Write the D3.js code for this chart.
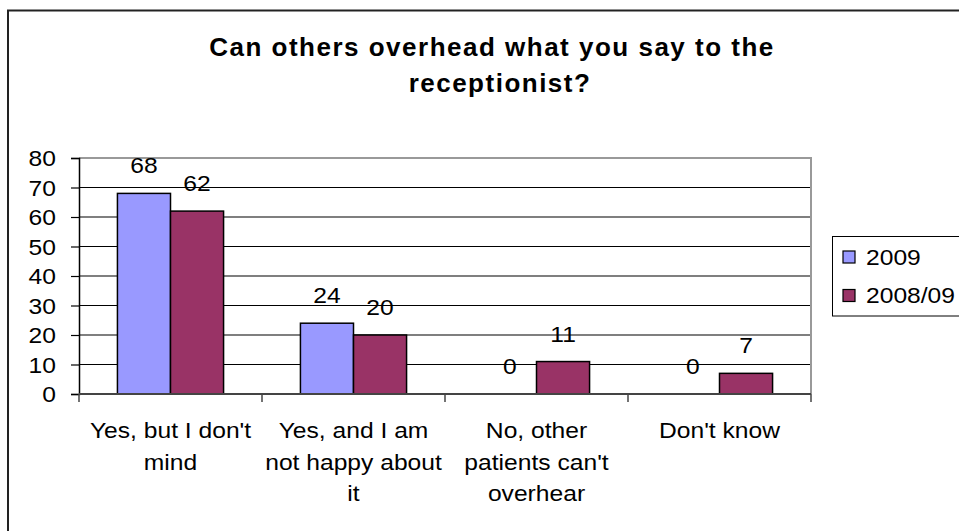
<!DOCTYPE html>
<html><head><meta charset="utf-8">
<script src="https://cdn.jsdelivr.net/npm/d3@7"></script>
<style>
body{margin:0;background:#fff;}
svg{display:block;font-family:"Liberation Sans",Arial,sans-serif;}
</style></head>
<body><svg id="c" width="959" height="531"></svg>
<script>
const categories = [["Yes, but I don't","mind"],["Yes, and I am","not happy about","it"],["No, other","patients can't","overhear"],["Don't know"]];
const seriesNames = ["2009","2008/09"];
const values2009 = [68,24,0,0];
const values200809 = [62,20,11,7];
const yTicks = [0,10,20,30,40,50,60,70,80];
const colors = ["#9999FF","#993366"];
const titleLines = ["Can others overhead what you say to the","receptionist?"];

const SX = 1.12, FS = 22;
const svg = d3.select("#c");
const X0=79, X1=811, Y0=394, Y1=158;

function stext(parent, x, yy, anchor, txt){
  return parent.append("text").attr("transform",`translate(${x},${yy}) scale(${SX},1)`)
    .attr("text-anchor",anchor).attr("font-size",FS).attr("fill","#000").text(txt);
}

// outer border
svg.append("rect").attr("x",8).attr("y",10.5).attr("width",1000).attr("height",600)
  .attr("fill","none").attr("stroke","#222").attr("stroke-width",2);

// title
const title = svg.append("text").attr("font-size",26).attr("font-weight","bold")
  .attr("letter-spacing","1.5px").attr("text-anchor","middle").attr("fill","#000");
titleLines.forEach((t,i)=>title.append("tspan").attr("x",i===0?492:500).attr("y",i===0?56:92).text(t));

const y = d3.scaleLinear().domain([0,80]).range([Y0,Y1]);
const x0 = d3.scaleBand().domain(d3.range(categories.length)).range([X0,X1]).paddingInner(0.42).paddingOuter(0.21);
const x1 = d3.scaleBand().domain(d3.range(seriesNames.length)).range([0,x0.bandwidth()]);
const xc = d3.scaleBand().domain(d3.range(categories.length)).range([X0,X1]);

// gridlines
svg.append("g").selectAll("line").data(yTicks.filter(d=>d>0&&d<80)).join("line")
  .attr("x1",X0).attr("x2",X1).attr("y1",d=>y(d)).attr("y2",d=>y(d))
  .attr("stroke","#000").attr("stroke-width",1.2);
// plot border top/right
svg.append("path").attr("d",`M${X0},${y(80)}H${X1}V${Y0}`).attr("fill","none")
  .attr("stroke","#999").attr("stroke-width",2);

// bars
const data = categories.map((c,i)=>[values2009[i],values200809[i]]);
const g = svg.append("g");
data.forEach((vals,i)=>{
  vals.forEach((v,s)=>{
    const bx = x0(i)+x1(s);
    if(v>0) g.append("rect").attr("x",bx).attr("y",y(v)).attr("width",x1.bandwidth()).attr("height",Y0-y(v))
      .attr("fill",colors[s]).attr("stroke","#000").attr("stroke-width",1.5);
    stext(g, bx+x1.bandwidth()/2, y(v)-20, "middle", v);
  });
});

// y axis
const yAxis = d3.axisLeft(y).tickValues(yTicks).tickSize(8).tickFormat(d3.format("d"));
const ya = svg.append("g").attr("transform",`translate(${X0},0)`).call(yAxis);
ya.select(".domain").attr("stroke","#000").attr("stroke-width",1.5);
ya.selectAll(".tick line").attr("stroke","#000").attr("stroke-width",1.2);
ya.selectAll(".tick text").attr("x",null).attr("dy","0.36em")
  .attr("transform",`translate(-23,0) scale(${SX},1)`)
  .attr("font-size",FS).attr("font-family","Liberation Sans, Arial, sans-serif").attr("fill","#000");

// x axis
svg.append("line").attr("x1",X0).attr("x2",X1).attr("y1",Y0).attr("y2",Y0).attr("stroke","#444").attr("stroke-width",2);
const tickXs = xc.domain().map(i=>xc(i)).concat([X1]);
svg.append("g").selectAll("line").data(tickXs).join("line")
  .attr("x1",d=>d).attr("x2",d=>d).attr("y1",Y0).attr("y2",Y0+8).attr("stroke","#444").attr("stroke-width",1.5);
categories.forEach((lines,i)=>{
  lines.forEach((l,k)=>stext(svg, xc(i)+xc.bandwidth()/2, 438+k*31.5, "middle", l));
});

// legend
const lg = svg.append("g");
lg.append("rect").attr("x",832.5).attr("y",236.5).attr("width",200).attr("height",79.5)
  .attr("fill","#fff").attr("stroke","#000").attr("stroke-width",1);
seriesNames.forEach((n,i)=>{
  lg.append("rect").attr("x",843).attr("y",251+i*38.5).attr("width",12).attr("height",12)
    .attr("fill",colors[i]).attr("stroke","#000").attr("stroke-width",1.2);
  stext(lg, 866, 264.5+i*38.5, "start", n);
});
</script></body></html>
